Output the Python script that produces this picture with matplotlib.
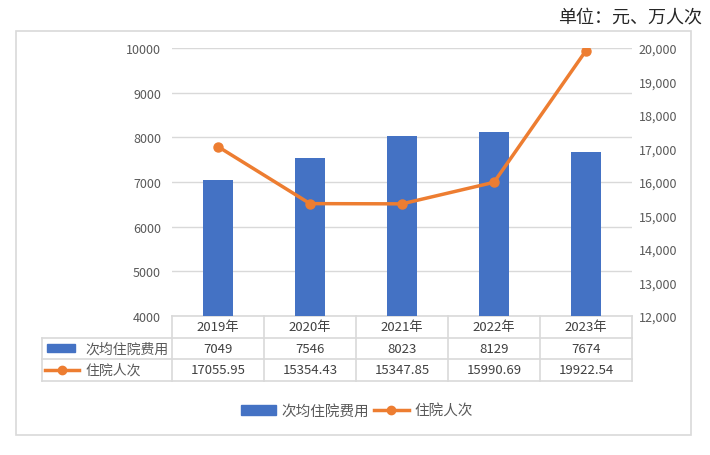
import matplotlib
matplotlib.use("Agg")
import matplotlib.pyplot as plt
from matplotlib.patches import Rectangle
from matplotlib.lines import Line2D
import numpy as np

plt.rcParams['font.family'] = ['Noto Sans CJK SC', 'DejaVu Sans']

years = ["2019年", "2020年", "2021年", "2022年", "2023年"]
cost = [7049, 7546, 8023, 8129, 7674]
visits = [17055.95, 15354.43, 15347.85, 15990.69, 19922.54]
cost_name = "次均住院费用"
visits_name = "住院人次"
unit_text = "单位：元、万人次"

blue = "#4472C4"
orange = "#ED7D31"
grid_c = "#D9D9D9"
txt_c = "#595959"

W, H = 710, 456
fig = plt.figure(figsize=(W / 100, H / 100), dpi=100)

# plot area in pixels
x0, x1, yt, yb = 172, 632, 49, 317
ax = fig.add_axes([x0 / W, 1 - yb / H, (x1 - x0) / W, (yb - yt) / H])

x = np.arange(len(years))
ax.bar(x, cost, width=0.32, color=blue, zorder=3)
ax.set_xlim(-0.5, len(years) - 0.5)
ax.set_ylim(4000, 10000)
ax.set_yticks(range(4000, 10001, 1000))
ax.yaxis.grid(True, color=grid_c, lw=1, zorder=0)
ax.set_xticks([])
for s in ax.spines.values():
    s.set_visible(False)
ax.tick_params(axis='y', length=0, labelsize=9, labelcolor=txt_c, pad=8)

ax2 = ax.twinx()
ax2.plot(x, visits, color=orange, lw=2.5, marker='o', ms=6.5, zorder=4)
ax2.set_ylim(12000, 20000)
ax2.set_yticks(range(12000, 20001, 1000))
ax2.yaxis.set_major_formatter(matplotlib.ticker.FuncFormatter(lambda v, p: f"{int(v):,}"))
for s in ax2.spines.values():
    s.set_visible(False)
ax2.tick_params(axis='y', length=0, labelsize=9, labelcolor=txt_c, pad=5)

# data table under the plot
rh = 21.5 / (yb - yt)
lx = (42 - x0) / (x1 - x0)
n = len(years)
tr = ax.transAxes
kw = dict(transform=tr, clip_on=False, color=grid_c, lw=1.2)
ax.add_line(Line2D([0, 1], [0, 0], **kw))
for r in (1, 2, 3):
    ax.add_line(Line2D([lx, 1], [-r * rh, -r * rh], **kw))
for c in range(n + 1):
    ax.add_line(Line2D([c / n, c / n], [0, -3 * rh], **kw))
ax.add_line(Line2D([lx, lx], [-rh, -3 * rh], **kw))

for i in range(n):
    cx = (i + 0.5) / n
    ax.text(cx, -0.5 * rh, years[i], transform=tr, ha='center', va='center',
            fontsize=9.5, color="#404040")
    ax.text(cx, -1.5 * rh, f"{cost[i]}", transform=tr, ha='center', va='center',
            fontsize=9.5, color="#404040")
    ax.text(cx, -2.5 * rh, f"{visits[i]:.2f}", transform=tr, ha='center', va='center',
            fontsize=9.5, color="#404040")

# row labels with legend keys
px = 1 / (x1 - x0)
py = 1 / (yb - yt)
ax.add_patch(Rectangle((lx + 5 * px, -1.5 * rh - 4 * py), 28 * px, 8 * py,
                       transform=tr, clip_on=False, color=blue))
ax.add_line(Line2D([lx + 3 * px, lx + 37 * px], [-2.5 * rh, -2.5 * rh],
                   transform=tr, clip_on=False, color=orange, lw=2.5))
ax.add_line(Line2D([lx + 20 * px], [-2.5 * rh], transform=tr, clip_on=False,
                   color=orange, marker='o', ms=6))
ax.text(lx + 43 * px, -1.5 * rh, cost_name, transform=tr, ha='left', va='center',
        fontsize=10, color=txt_c)
ax.text(lx + 43 * px, -2.5 * rh, visits_name, transform=tr, ha='left', va='center',
        fontsize=10, color=txt_c)

# bottom legend
handles = [Rectangle((0, 0), 1, 1, color=blue),
           Line2D([], [], color=orange, lw=2.5, marker='o', ms=6)]
fig.legend(handles, [cost_name, visits_name], loc='center', ncol=2,
           bbox_to_anchor=(357 / W, 1 - 412 / H), frameon=False, fontsize=10.5,
           labelcolor=txt_c, handlelength=2.4, handleheight=0.6,
           columnspacing=0.3, handletextpad=0.4)

# chart border and unit note
fig.patches.append(Rectangle((16 / W, 1 - 436 / H), (691 - 16) / W, (436 - 32) / H,
                             transform=fig.transFigure, fill=False,
                             edgecolor=grid_c, lw=1.2))
fig.text(702 / W, 1 - 17 / H, unit_text, ha='right', va='center', fontsize=13,
         color="#262626")

fig.savefig("out.png", dpi=100)
